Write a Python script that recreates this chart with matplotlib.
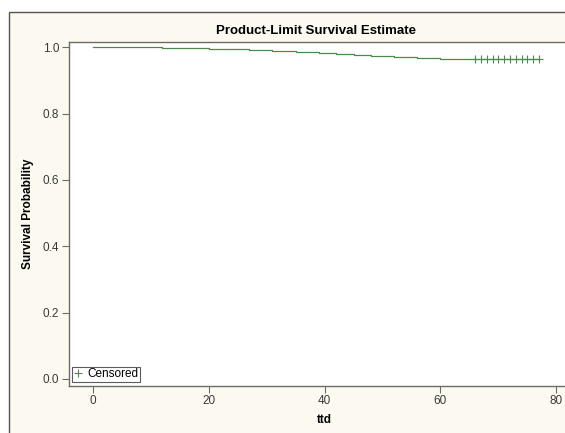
import matplotlib
matplotlib.use("Agg")
from matplotlib import pyplot as plt
from matplotlib.patches import Rectangle
from matplotlib.lines import Line2D

# step function (time, survival after that time)
event_times = [0, 12, 20, 27, 31, 35, 39, 42, 45, 48, 52, 56, 60, 77]
survival = [1.0, 0.997, 0.994, 0.991, 0.988, 0.985, 0.982, 0.979, 0.976,
            0.973, 0.970, 0.967, 0.964, 0.964]
censored_times = [66, 67, 68, 69, 70, 71, 72, 73, 74, 75, 76, 77]
censored_surv = [0.964] * len(censored_times)

x_ticks = [0, 20, 40, 60, 80]
y_ticks = [0.0, 0.2, 0.4, 0.6, 0.8, 1.0]

plt.rcParams['font.family'] = ['Liberation Sans', 'DejaVu Sans']

W, H = 565, 433
bg = '#fcf9f1'
green = '#4b8a4b'
frame = '#6e6c62'

fig = plt.figure(figsize=(W / 100, H / 100), dpi=100, facecolor='white')

# outer graph frame (runs off the right and bottom edges)
fig.patches.append(Rectangle((9 / W, -0.1), 1.2, (H - 12) / H + 0.1,
                             transform=fig.transFigure, facecolor=bg,
                             edgecolor='#555555', linewidth=1.0, zorder=-1))

ax = fig.add_axes([69 / W, (H - 385.7) / H, 511 / W, (385.7 - 42) / H])
ax.set_facecolor('white')

ax.step(event_times, survival, where='post', color=green, linewidth=0.9)
ax.plot(censored_times, censored_surv, linestyle='none', marker='+',
        markersize=6, markeredgewidth=0.8, color=green)

ax.set_xlim(-4.14, 84.1)
ax.set_ylim(-0.0202, 1.016)
ax.set_xticks(x_ticks)
ax.set_yticks(y_ticks)
ax.set_yticklabels(['%.1f' % v for v in y_ticks])

for side in ['left', 'bottom', 'top', 'right']:
  ax.spines[side].set_color(frame)
  ax.spines[side].set_linewidth(1.0)

ax.tick_params(direction='out', length=5, width=0.8, color=frame,
               labelsize=8.5, labelcolor='#3a3a3a', pad=2)

ax.set_xlabel('ttd', fontsize=8.5, fontweight='bold', labelpad=5)
ax.set_ylabel('Survival Probability', fontsize=8.5, fontweight='bold',
              labelpad=6)
fig.text(316 / W, 1 - 31 / H, 'Product-Limit Survival Estimate',
         ha='center', va='center', fontsize=9.5, fontweight='bold')

handle = Line2D([], [], linestyle='none', marker='+', markersize=6,
                markeredgewidth=0.8, color=green)
leg = ax.legend([handle], ['Censored'], loc='lower left',
                bbox_to_anchor=(0.006, 0.012), fontsize=8.5, frameon=True,
                fancybox=False, borderpad=0.1, handlelength=0.8,
                handletextpad=0.4, borderaxespad=0.0)
leg.get_frame().set_edgecolor('#333333')
leg.get_frame().set_linewidth(0.8)

fig.savefig('out.png', dpi=100, facecolor=fig.get_facecolor())
